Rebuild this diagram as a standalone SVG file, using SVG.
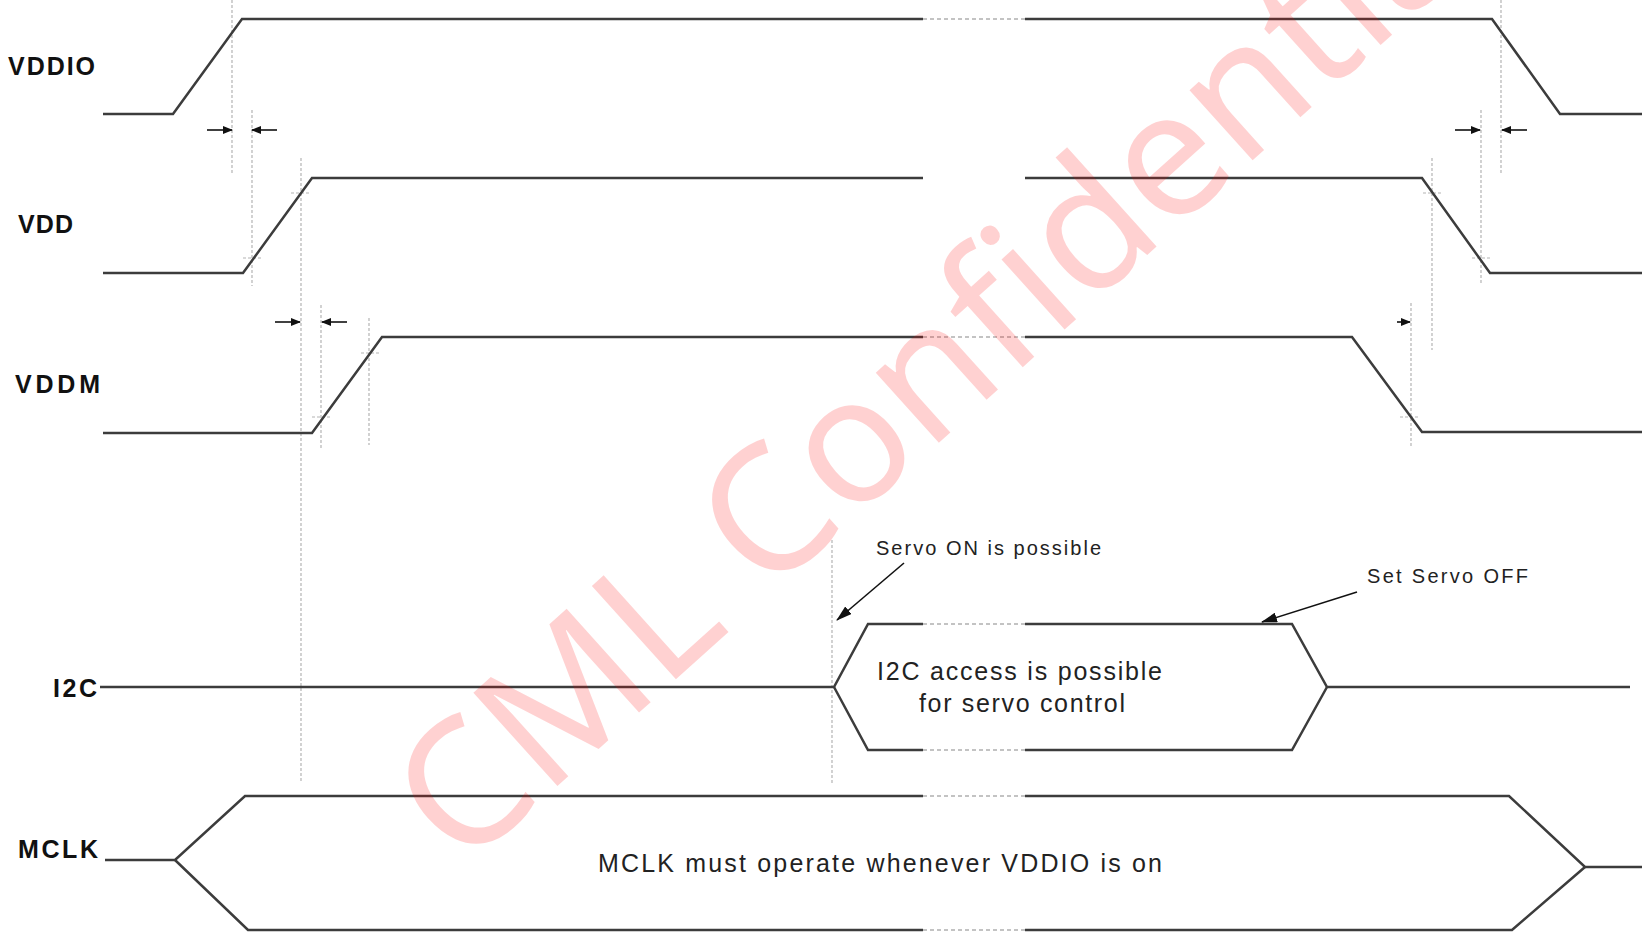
<svg xmlns="http://www.w3.org/2000/svg" width="1645" height="935" viewBox="0 0 1645 935">
<style>
.sig{fill:none;stroke:#3c3c3c;stroke-width:2.5;stroke-linejoin:miter}
.gap{fill:none;stroke:#b0b0b0;stroke-width:1.5;stroke-dasharray:4 3}
.guide{fill:none;stroke:#b4b4b4;stroke-width:1.2;stroke-dasharray:3 2}
.dim{fill:none;stroke:#111;stroke-width:1.6}
.lbl{font-family:"Liberation Sans",Arial,sans-serif;font-weight:bold;font-size:25px;fill:#111}
.txt{font-family:"Liberation Sans",Arial,sans-serif;font-size:25px;fill:#222}
.small{font-family:"Liberation Sans",Arial,sans-serif;font-size:20px;fill:#222}
.wm{font-family:"Noto Sans",sans-serif;font-size:176px;fill:#ff0000;fill-opacity:0.18}
</style>
<defs>
<marker id="ah" markerWidth="10" markerHeight="8" refX="9" refY="4" orient="auto" markerUnits="userSpaceOnUse">
<path d="M0,0 L10,4 L0,8 Z" fill="#111"/>
</marker>
<marker id="ahs" markerWidth="16" markerHeight="10" refX="15" refY="5" orient="auto" markerUnits="userSpaceOnUse">
<path d="M0,0 L16,5 L0,10 Z" fill="#111"/>
</marker>
</defs>

<g id="guides">
<line class="guide" x1="232" y1="0" x2="232" y2="173"/>
<line class="guide" x1="252" y1="110" x2="252" y2="286"/>
<line class="guide" x1="301" y1="158" x2="301" y2="783"/>
<line class="guide" x1="321" y1="305" x2="321" y2="448"/>
<line class="guide" x1="369" y1="318" x2="369" y2="445"/>
<line class="guide" x1="1501" y1="0" x2="1501" y2="173"/>
<line class="guide" x1="1481" y1="110" x2="1481" y2="285"/>
<line class="guide" x1="1432" y1="158" x2="1432" y2="350"/>
<line class="guide" x1="1411" y1="303" x2="1411" y2="448"/>
<line class="guide" x1="832" y1="540" x2="832" y2="785"/>
<line class="guide" x1="243" y1="258" x2="261" y2="258"/>
<line class="guide" x1="291" y1="193" x2="309" y2="193"/>
<line class="guide" x1="312" y1="417" x2="330" y2="417"/>
<line class="guide" x1="361" y1="353" x2="379" y2="353"/>
<line class="guide" x1="1423" y1="193" x2="1442" y2="193"/>
<line class="guide" x1="1472" y1="258" x2="1490" y2="258"/>
<line class="guide" x1="1400" y1="417" x2="1418" y2="417"/>
</g>

<g id="vddio">
<text class="lbl" x="8" y="75" textLength="87" lengthAdjust="spacing">VDDIO</text>
<polyline class="sig" points="103,114 173,114 242,19 923,19"/>
<line class="gap" x1="923" y1="19" x2="1025" y2="19"/>
<polyline class="sig" points="1025,19 1492,19 1560,114 1642,114"/>
</g>

<g id="vdd">
<text class="lbl" x="18" y="233" textLength="55" lengthAdjust="spacing">VDD</text>
<polyline class="sig" points="103,273 243,273 312,178 923,178"/>
<polyline class="sig" points="1025,178 1422,178 1490,273 1642,273"/>
</g>

<g id="vddm">
<text class="lbl" x="15" y="393" textLength="85" lengthAdjust="spacing">VDDM</text>
<polyline class="sig" points="103,433 312,433 382,337 923,337"/>
<line class="gap" x1="923" y1="337" x2="1025" y2="337"/>
<polyline class="sig" points="1025,337 1352,337 1422,432 1642,432"/>
</g>

<g id="i2c">
<text class="lbl" x="53" y="697" textLength="44" lengthAdjust="spacing">I2C</text>
<polyline class="sig" points="100,687 834,687 868,624 923,624"/>
<polyline class="sig" points="923,750 868,750 834,687"/>
<line class="gap" x1="923" y1="624" x2="1025" y2="624"/>
<line class="gap" x1="923" y1="750" x2="1025" y2="750"/>
<polyline class="sig" points="1025,624 1292,624 1327,687 1630,687"/>
<polyline class="sig" points="1025,750 1292,750 1327,687"/>
<text class="txt" x="877" y="680" textLength="285" lengthAdjust="spacing">I2C access is possible</text>
<text class="txt" x="919" y="712" textLength="206" lengthAdjust="spacing">for servo control</text>
</g>

<g id="mclk">
<text class="lbl" x="18" y="858" textLength="80" lengthAdjust="spacing">MCLK</text>
<polyline class="sig" points="105,860 175,860 245,796 923,796"/>
<polyline class="sig" points="175,860 248,930 923,930"/>
<line class="gap" x1="923" y1="796" x2="1025" y2="796"/>
<line class="gap" x1="923" y1="930" x2="1025" y2="930"/>
<polyline class="sig" points="1025,796 1509,796 1585,867 1642,867"/>
<polyline class="sig" points="1025,930 1512,930 1585,867"/>
<text class="txt" x="598" y="872" textLength="564" lengthAdjust="spacing">MCLK must operate whenever VDDIO is on</text>
</g>

<g id="servo-on">
<text class="small" x="876" y="555" textLength="225" lengthAdjust="spacing">Servo ON is possible</text>
</g>
<g id="servo-off">
<text class="small" x="1367" y="583" textLength="161" lengthAdjust="spacing">Set Servo OFF</text>
</g>

<g id="connectors">
<line class="dim" x1="207" y1="130" x2="232" y2="130" marker-end="url(#ah)"/>
<line class="dim" x1="277" y1="130" x2="252" y2="130" marker-end="url(#ah)"/>
<line class="dim" x1="275" y1="322" x2="300" y2="322" marker-end="url(#ah)"/>
<line class="dim" x1="347" y1="322" x2="322" y2="322" marker-end="url(#ah)"/>
<line class="dim" x1="1455" y1="130" x2="1480" y2="130" marker-end="url(#ah)"/>
<line class="dim" x1="1527" y1="130" x2="1502" y2="130" marker-end="url(#ah)"/>
<line class="dim" x1="1397" y1="322" x2="1410" y2="322" marker-end="url(#ah)"/>
<line class="dim" x1="904" y1="563" x2="837" y2="620" marker-end="url(#ahs)"/>
<line class="dim" x1="1357" y1="592" x2="1262" y2="622" marker-end="url(#ahs)"/>
</g>

<text class="wm" transform="translate(462,872) rotate(-42)">CML Confidential</text>
</svg>
